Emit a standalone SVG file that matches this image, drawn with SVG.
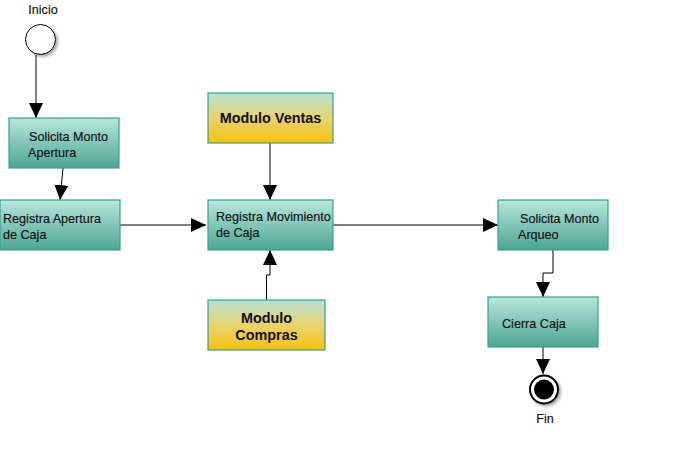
<svg xmlns="http://www.w3.org/2000/svg" width="685" height="450" viewBox="0 0 685 450">
<style>
.box{stroke:#3aa08a;stroke-width:1.2}
.teal{fill:url(#gT)}
.yel{fill:url(#gY)}
.t{font-family:"Liberation Sans",Arial,sans-serif;font-size:12.6px;fill:#111;stroke:#111;stroke-width:0.15}
.b{font-family:"Liberation Sans",Arial,sans-serif;font-size:14.4px;font-weight:bold;fill:#111}
.c{fill:none;stroke:#000;stroke-width:1}
</style>
<defs>
<linearGradient id="gT" x1="0" y1="0" x2="0" y2="1">
<stop offset="0" stop-color="#b8e6dc"/><stop offset="1" stop-color="#4ea593"/>
</linearGradient>
<linearGradient id="gY" x1="0" y1="0" x2="0" y2="1">
<stop offset="0" stop-color="#b6e2d6"/><stop offset="0.5" stop-color="#e8d370"/><stop offset="1" stop-color="#f8c10e"/>
</linearGradient>
<marker id="ar" viewBox="0 0 15 14" refX="15" refY="7" markerWidth="15" markerHeight="14" markerUnits="userSpaceOnUse" orient="auto">
<path d="M0,0 L15,7 L0,14 Z" fill="#000"/>
</marker>
<filter id="sh" x="-50%" y="-50%" width="200%" height="200%">
<feDropShadow dx="2" dy="2" stdDeviation="1.5" flood-color="#000" flood-opacity="0.35"/>
</filter>
</defs>
<g id="connectors">
<path class="c" d="M36,55 V118" marker-end="url(#ar)"/>
<path class="c" d="M63,168 L60,200" marker-end="url(#ar)"/>
<path class="c" d="M120,225 H206" marker-end="url(#ar)"/>
<path class="c" d="M270,143 V200" marker-end="url(#ar)"/>
<path class="c" d="M266.5,300 V275 H270 V250" marker-end="url(#ar)"/>
<path class="c" d="M333,225 H498" marker-end="url(#ar)"/>
<path class="c" d="M553,250 V273 H543 V297" marker-end="url(#ar)"/>
<path class="c" d="M543,347 V374" marker-end="url(#ar)"/>
</g>
<g id="inicio">
<circle cx="40.5" cy="39.5" r="15" fill="#fff" stroke="#000" stroke-width="1" filter="url(#sh)"/>
<text class="t" x="43" y="14" text-anchor="middle">Inicio</text>
</g>
<g id="solicitaApertura">
<rect class="box teal" x="9" y="118" width="110" height="50"/>
<text class="t" x="29" y="141">Solicita Monto</text>
<text class="t" x="28" y="157">Apertura</text>
</g>
<g id="registraApertura">
<rect class="box teal" x="0" y="200" width="120" height="50"/>
<text class="t" x="3" y="223">Registra Apertura</text>
<text class="t" x="3" y="239">de Caja</text>
</g>
<g id="moduloVentas">
<rect class="box yel" x="208" y="93" width="125" height="50"/>
<text class="b" x="270.5" y="123" text-anchor="middle">Modulo Ventas</text>
</g>
<g id="registraMovimiento">
<rect class="box teal" x="208" y="200" width="125" height="50"/>
<text class="t" x="216" y="221">Registra Movimiento</text>
<text class="t" x="216" y="237">de Caja</text>
</g>
<g id="moduloCompras">
<rect class="box yel" x="208" y="300" width="117" height="50"/>
<text class="b" x="266.5" y="323" text-anchor="middle">Modulo</text>
<text class="b" x="266.5" y="340" text-anchor="middle">Compras</text>
</g>
<g id="solicitaArqueo">
<rect class="box teal" x="498" y="200" width="110" height="50"/>
<text class="t" x="520" y="223">Solicita Monto</text>
<text class="t" x="518" y="239">Arqueo</text>
</g>
<g id="cierraCaja">
<rect class="box teal" x="488" y="297" width="110" height="50"/>
<text class="t" x="502" y="328">Cierra Caja</text>
</g>
<g id="fin">
<circle cx="544" cy="389.5" r="14" fill="#fff" stroke="#000" stroke-width="2" filter="url(#sh)"/>
<circle cx="544" cy="389.5" r="10" fill="#000"/>
<text class="t" x="545" y="423" text-anchor="middle">Fin</text>
</g>
</svg>
